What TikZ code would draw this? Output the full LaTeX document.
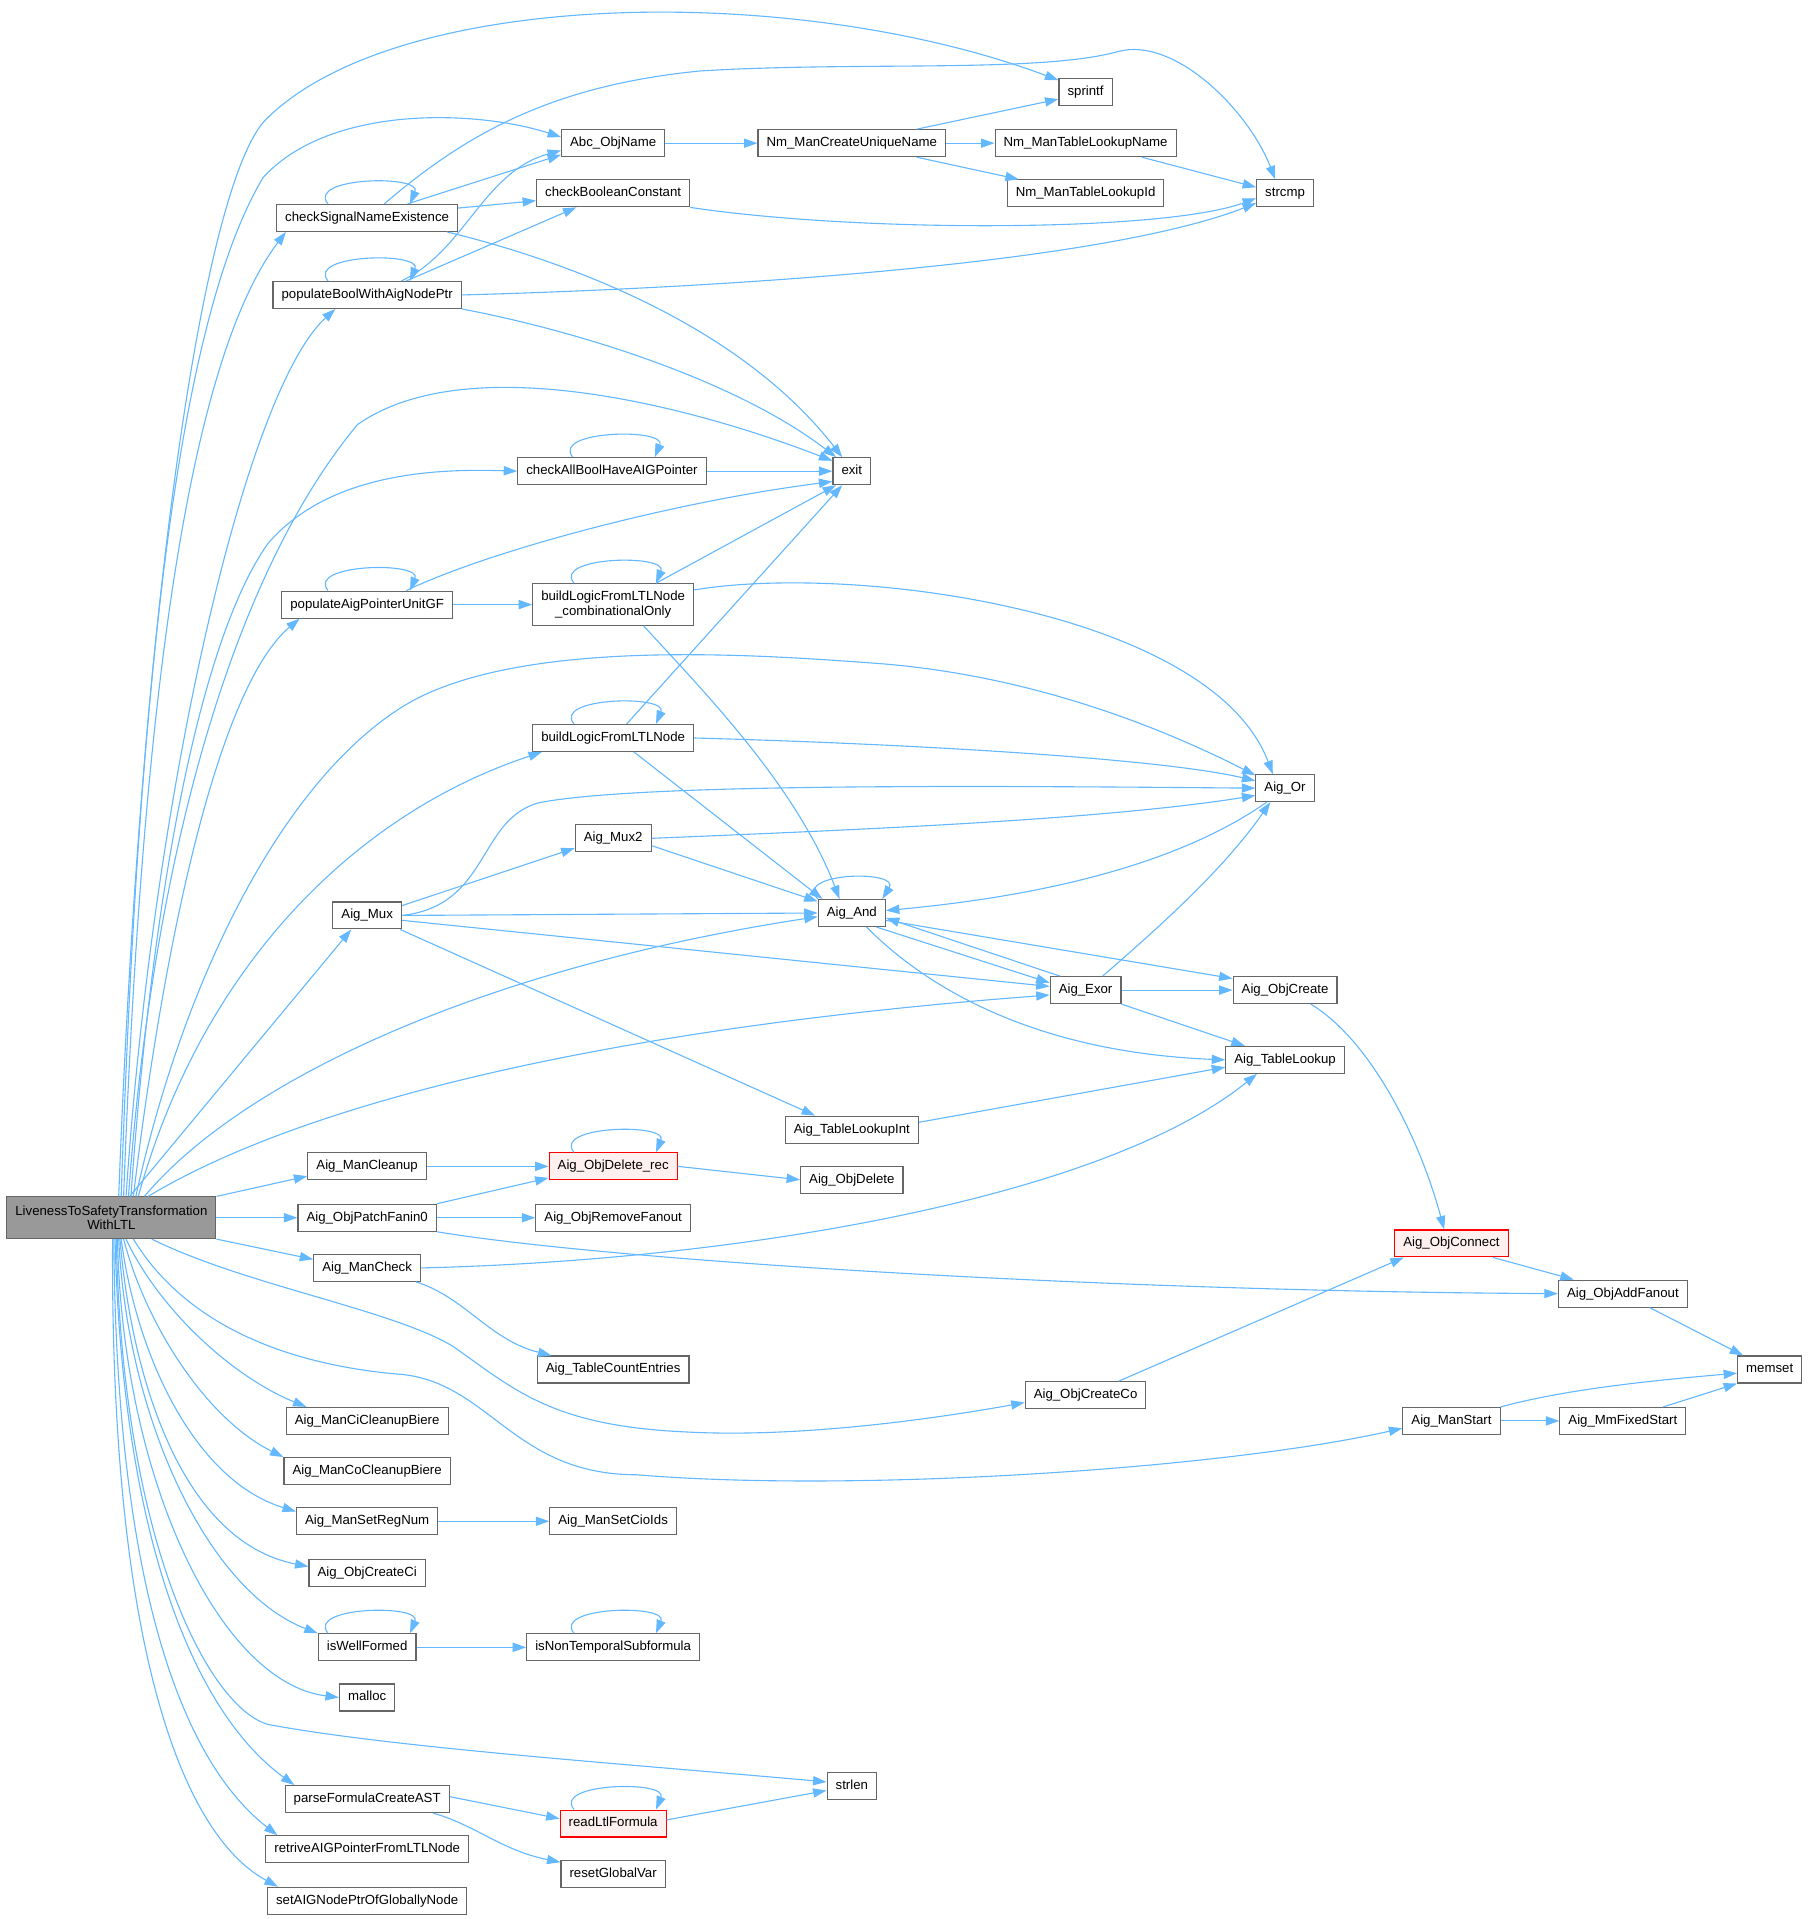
\documentclass[tikz,border=0pt]{standalone}
\usepackage{fontspec}
\setmainfont{Liberation Sans}
\usetikzlibrary{arrows.meta}
\definecolor{callblue}{HTML}{63B8FF}
\definecolor{boxgray}{HTML}{666666}
\definecolor{rootgray}{HTML}{999999}
\newcommand{\selfloop}[1]{\draw[call] ([xshift=-32pt]#1.north) .. controls +(-18,-22) and +(10,-24) .. ([xshift=35pt]#1.north);}
\begin{document}
\begin{tikzpicture}[x=1pt,y=-1pt,
    fn/.style={draw=boxgray,line width=0.9pt,fill=white,inner xsep=7pt,inner ysep=0pt,minimum height=22pt,
      text height=7.8pt,text depth=2.2pt,font=\fontsize{10.8}{12}\selectfont},
    hot/.style={fn,draw=red,fill=red!6},
    twoline/.style={draw=boxgray,line width=0.9pt,fill=white,inner xsep=7pt,minimum height=34pt,align=center,
      font=\fontsize{10.8}{12}\selectfont},
    root/.style={twoline,fill=rootgray},
    call/.style={draw=callblue,line width=0.9pt,-{Triangle[length=11pt,width=7.5pt]}}]
  \fill[white] (0,0) rectangle (1479,1568);
  \useasboundingbox (0,0) rectangle (1479,1568);

  \node[root] (live) at (91,995) {LivenessToSafetyTransformation\\WithLTL};
  \node[fn] (sprintf) at (887,75) {sprintf};
  \node[fn] (objname) at (501,117) {Abc\_ObjName};
  \node[fn] (nmcun) at (696,117) {Nm\_ManCreateUniqueName};
  \node[fn] (nmtln) at (887,117) {Nm\_ManTableLookupName};
  \node[fn] (strcmp) at (1050,158) {strcmp};
  \node[fn] (cs) at (300,178) {checkSignalNameExistence};
  \node[fn] (cbc) at (501,158) {checkBooleanConstant};
  \node[fn] (nmtli) at (887,158) {Nm\_ManTableLookupId};
  \node[fn] (pb) at (300,241) {populateBoolWithAigNodePtr};
  \node[fn] (cab) at (500,385) {checkAllBoolHaveAIGPointer};
  \node[fn] (exit) at (696,385) {exit};
  \node[fn] (pau) at (300,494) {populateAigPointerUnitGF};
  \node[twoline] (blc) at (501,494) {buildLogicFromLTLNode\\\_combinationalOnly};
  \node[fn] (bl) at (501,603) {buildLogicFromLTLNode};
  \node[fn] (aigor) at (1050,644) {Aig\_Or};
  \node[fn] (mux2) at (501,685) {Aig\_Mux2};
  \node[fn] (mux) at (300,748) {Aig\_Mux};
  \node[fn] (aigand) at (696,746) {Aig\_And};
  \node[fn] (exor) at (887,809) {Aig\_Exor};
  \node[fn] (objcreate) at (1050,809) {Aig\_ObjCreate};
  \node[fn] (tablelookup) at (1050,866) {Aig\_TableLookup};
  \node[fn] (tli) at (696,923) {Aig\_TableLookupInt};
  \node[fn] (mancleanup) at (300,953) {Aig\_ManCleanup};
  \node[hot] (delrec) at (501,953) {Aig\_ObjDelete\_rec};
  \node[fn] (objdelete) at (696,964) {Aig\_ObjDelete};
  \node[fn] (patch) at (300,995) {Aig\_ObjPatchFanin0};
  \node[fn] (removefanout) at (501,995) {Aig\_ObjRemoveFanout};
  \node[fn] (mancheck) at (300,1036) {Aig\_ManCheck};
  \node[hot] (objconnect) at (1186,1016) {Aig\_ObjConnect};
  \node[fn] (addfanout) at (1326,1057) {Aig\_ObjAddFanout};
  \node[fn] (tce) at (501,1119) {Aig\_TableCountEntries};
  \node[fn] (memset) at (1446,1119) {memset};
  \node[fn] (createco) at (887,1140) {Aig\_ObjCreateCo};
  \node[fn] (manci) at (300,1161) {Aig\_ManCiCleanupBiere};
  \node[fn] (manstart) at (1186,1161) {Aig\_ManStart};
  \node[fn] (mmfixed) at (1326,1161) {Aig\_MmFixedStart};
  \node[fn] (manco) at (300,1202) {Aig\_ManCoCleanupBiere};
  \node[fn] (setreg) at (300,1243) {Aig\_ManSetRegNum};
  \node[fn] (setcio) at (501,1243) {Aig\_ManSetCioIds};
  \node[fn] (createci) at (300,1285) {Aig\_ObjCreateCi};
  \node[fn] (wellformed) at (300,1346) {isWellFormed};
  \node[fn] (nontemp) at (501,1346) {isNonTemporalSubformula};
  \node[fn] (malloc) at (300,1387) {malloc};
  \node[fn] (strlen) at (696,1459) {strlen};
  \node[fn] (parse) at (300,1470) {parseFormulaCreateAST};
  \node[hot] (readltl) at (501,1490) {readLtlFormula};
  \node[fn] (retrive) at (300,1511) {retriveAIGPointerFromLTLNode};
  \node[fn] (resetglobal) at (501,1531) {resetGlobalVar};
  \node[fn] (setaig) at (300,1553) {setAIGNodePtrOfGloballyNode};

  \draw[call] ([xshift=6pt]live.north) .. controls (115,500) and (165,160) .. (215,100)
    .. controls (320,-10) and (650,-15) .. ([yshift=-2pt]sprintf.north west);
  \draw[call] ([xshift=8pt]live.north) .. controls (112,600) and (140,270) .. (215,145)
    .. controls (270,85) and (390,90) .. ([yshift=5pt]objname.west);
  \draw[call] ([xshift=10pt]live.north) .. controls (115,600) and (150,300) .. ([xshift=8pt]cs.south west);
  \draw[call] ([xshift=12pt]live.north) .. controls (125,650) and (200,320) .. ([xshift=-26pt]pb.south);
  \draw[call] ([xshift=14pt]live.north) .. controls (125,700) and (190,470) .. (292,347)
    .. controls (380,285) and (560,330) .. ([yshift=-3pt]exit.north west);
  \draw[call] ([xshift=16pt]live.north) .. controls (125,720) and (165,520) .. (219,444)
    .. controls (270,385) and (360,383) .. (cab.west);
  \draw[call] ([xshift=18pt]live.north) .. controls (135,760) and (180,560) .. ([xshift=15pt]pau.south west);
  \draw[call] ([xshift=20pt]live.north) .. controls (150,800) and (230,640) .. (328,578)
    .. controls (420,520) and (620,535) .. (716,542)
    .. controls (850,552) and (960,600) .. ([yshift=-1pt]aigor.north west);
  \draw[call] ([xshift=22pt]live.north) .. controls (165,790) and (290,665) .. ([xshift=8pt]bl.south west);
  \draw[call] ([xshift=15pt]live.north) -- ([xshift=-13pt]mux.south);
  \draw[call] ([xshift=27pt]live.north) .. controls (200,880) and (400,790) .. ([yshift=-3pt]aigand.west);
  \draw[call] ([xshift=30pt]live.north) .. controls (250,900) and (500,840) .. ([yshift=-4pt]exor.west);
  \draw[call] (live.north east) -- ([yshift=-8pt]mancleanup.west);
  \draw[call] (live.east) -- (patch.west);
  \draw[call] (live.south east) -- ([yshift=7pt]mancheck.west);
  \draw[call] ([xshift=33pt]live.south) .. controls (200,1050) and (320,1070) .. (370,1100)
    .. controls (420,1135) and (450,1165) .. (560,1170)
    .. controls (650,1175) and (760,1160) .. ([yshift=-6pt]createco.west);
  \draw[call] ([xshift=18pt]live.south) .. controls (150,1080) and (230,1115) .. (328,1123)
    .. controls (400,1130) and (420,1205) .. (520,1205)
    .. controls (700,1220) and (1000,1200) .. ([yshift=-6pt]manstart.west);
  \draw[call] ([xshift=12pt]live.south) .. controls (130,1070) and (190,1125) .. ([xshift=17pt]manci.north west);
  \draw[call] ([xshift=10pt]live.south) .. controls (120,1085) and (170,1160) .. (manco.north west);
  \draw[call] ([xshift=8pt]live.south) .. controls (112,1110) and (160,1210) .. ([yshift=8pt]setreg.west);
  \draw[call] ([xshift=7pt]live.south) .. controls (108,1130) and (150,1260) .. ([yshift=5pt]createci.west);
  \draw[call] ([xshift=6pt]live.south) .. controls (104,1160) and (170,1300) .. (wellformed.north west);
  \draw[call] ([xshift=5pt]live.south) .. controls (100,1210) and (180,1375) .. (malloc.west);
  \draw[call] ([xshift=4pt]live.south) .. controls (100,1260) and (170,1395) .. (219,1409)
    .. controls (320,1428) and (520,1442) .. ([yshift=3pt]strlen.west);
  \draw[call] ([xshift=3pt]live.south) .. controls (100,1260) and (160,1400) .. ([xshift=8pt]parse.north west);
  \draw[call] ([xshift=2pt]live.south) .. controls (95,1300) and (150,1440) .. ([xshift=10pt]retrive.north west);
  \draw[call] ([xshift=1pt]live.south) .. controls (90,1350) and (150,1500) .. ([xshift=9pt]setaig.north west);

  \selfloop{cs}
  \draw[call] ([xshift=33pt]cs.north) -- ([yshift=2pt]objname.south west);
  \draw[call] ([yshift=8pt]cs.east) -- ([yshift=-6pt]cbc.west);
  \draw[call] ([xshift=65pt]cs.south) .. controls (450,210) and (600,260) .. ([xshift=8pt]exit.north west);
  \draw[call] ([xshift=14pt]cs.north) .. controls (380,110) and (450,70) .. (572,58)
    .. controls (700,50) and (850,60) .. (914,42)
    .. controls (960,30) and (1020,90) .. ([xshift=-8pt]strcmp.north);
  \selfloop{pb}
  \draw[call] ([xshift=28pt]pb.north) .. controls (380,205) and (395,140) .. ([yshift=-6pt]objname.west);
  \draw[call] ([xshift=32pt]pb.north) -- ([xshift=-30pt]cbc.south);
  \draw[call] (pb.east) .. controls (600,235) and (900,215) .. ([yshift=-8pt]strcmp.west);
  \draw[call] (pb.south east) .. controls (470,270) and (600,310) .. ([xshift=3pt]exit.north west);
  \draw[call] (objname.east) -- (nmcun.west);
  \draw[call] ([xshift=53pt]nmcun.north) -- ([yshift=-6pt]sprintf.west);
  \draw[call] (nmcun.east) -- (nmtln.west);
  \draw[call] ([xshift=53pt]nmcun.south) -- ([xshift=10pt]nmtli.north west);
  \draw[call] ([xshift=46pt]nmtln.south) -- ([yshift=5pt]strcmp.west);
  \draw[call] (cbc.south east) .. controls (700,190) and (950,190) .. ([yshift=-4pt]strcmp.west);

  \selfloop{cab}
  \draw[call] (cab.east) -- (exit.west);
  \selfloop{pau}
  \draw[call] ([xshift=32pt]pau.north) .. controls (400,450) and (550,410) .. ([yshift=3pt]exit.south west);
  \draw[call] (pau.east) -- (blc.west);
  \selfloop{blc}
  \draw[call] ([xshift=35pt]blc.north) -- ([xshift=3pt]exit.south west);
  \draw[call] ([yshift=12pt]blc.east) .. controls (700,460) and (990,500) .. ([xshift=-10pt]aigor.north);
  \draw[call] ([xshift=25pt]blc.south) .. controls (570,560) and (650,640) .. ([xshift=-10pt]aigand.north);
  \selfloop{bl}
  \draw[call] ([xshift=11pt]bl.north) -- ([xshift=8pt]exit.south west);
  \draw[call] (bl.east) .. controls (750,608) and (950,620) .. ([yshift=6pt]aigor.west);
  \draw[call] ([xshift=17pt]bl.south) -- ([xshift=-24pt]aigand.north);

  \draw[call] ([yshift=8pt]mux.east) -- ([yshift=-8pt]mux2.west);
  \draw[call] (mux.east) .. controls (400,740) and (390,670) .. (440,656)
    .. controls (520,640) and (800,642) .. (aigor.west);
  \draw[call] (mux.east) -- (aigand.west);
  \draw[call] ([yshift=-4pt]mux.east) -- ([yshift=3pt]exor.west);
  \draw[call] ([xshift=27pt]mux.south) -- ([xshift=-30pt]tli.north);
  \draw[call] (mux2.east) .. controls (700,678) and (900,670) .. ([yshift=-6pt]aigor.west);
  \draw[call] ([yshift=-6pt]mux2.east) -- ([yshift=-2pt]aigand.north west);

  \draw[call] (aigand.north west) .. controls +(-20,-22) and +(15,-24) .. ([xshift=-3pt]aigand.north east);
  \draw[call] ([xshift=-15pt]aigor.south) .. controls (950,715) and (820,735) .. ([yshift=2pt]aigand.east);
  \draw[call] ([xshift=14pt]exor.north) .. controls (950,755) and (1000,710) .. ([xshift=-12pt]aigor.south);
  \draw[call] ([xshift=-21pt]exor.north) -- ([yshift=-4pt]aigand.east);
  \draw[call] ([xshift=20pt]aigand.south) -- ([yshift=6pt]exor.west);
  \draw[call] ([yshift=-6pt]aigand.east) -- ([yshift=-2pt]objcreate.north west);
  \draw[call] (exor.east) -- (objcreate.west);
  \draw[call] (exor.south east) -- ([xshift=16pt]tablelookup.north west);
  \draw[call] ([xshift=12pt]aigand.south) .. controls (760,810) and (850,860) .. (tablelookup.west);
  \draw[call] ([yshift=6pt]tli.east) -- ([yshift=-6pt]tablelookup.west);
  \draw[call] ([xshift=21pt]objcreate.south) .. controls (1120,850) and (1160,930) .. ([xshift=-6pt]objconnect.north);

  \draw[call] (mancleanup.east) -- (delrec.west);
  \selfloop{delrec}
  \draw[call] (delrec.east) -- (objdelete.west);
  \draw[call] (patch.north east) -- ([yshift=2pt]delrec.south west);
  \draw[call] (patch.east) -- (removefanout.west);
  \draw[call] (patch.south east) .. controls (500,1030) and (900,1055) .. (addfanout.west);
  \draw[call] (mancheck.east) .. controls (600,1030) and (900,980) .. ([xshift=-23pt]tablelookup.south);
  \draw[call] ([xshift=40pt]mancheck.south) .. controls (380,1060) and (400,1095) .. ([xshift=12pt]tce.north west);
  \draw[call] ([xshift=27pt]createco.north) -- ([xshift=-39pt]objconnect.south);
  \draw[call] ([xshift=34pt]objconnect.south) -- ([xshift=13pt]addfanout.north west);
  \draw[call] ([xshift=22pt]addfanout.south) -- ([xshift=5pt]memset.north west);
  \draw[call] (manstart.north east) .. controls (1280,1135) and (1350,1128) .. ([yshift=-3pt]memset.west);
  \draw[call] (manstart.east) -- (mmfixed.west);
  \draw[call] ([xshift=33pt]mmfixed.north) -- (memset.south west);

  \draw[call] (setreg.east) -- (setcio.west);
  \selfloop{wellformed}
  \draw[call] (wellformed.east) -- (nontemp.west);
  \selfloop{nontemp}
  \draw[call] ([yshift=2pt]parse.east) -- ([yshift=4pt]readltl.west);
  \draw[call] ([xshift=54pt]parse.south) .. controls (390,1492) and (410,1512) .. ([yshift=-2pt]resetglobal.north west);
  \selfloop{readltl}
  \draw[call] ([yshift=3pt]readltl.east) -- ([yshift=-4pt]strlen.west);
\end{tikzpicture}
\end{document}
